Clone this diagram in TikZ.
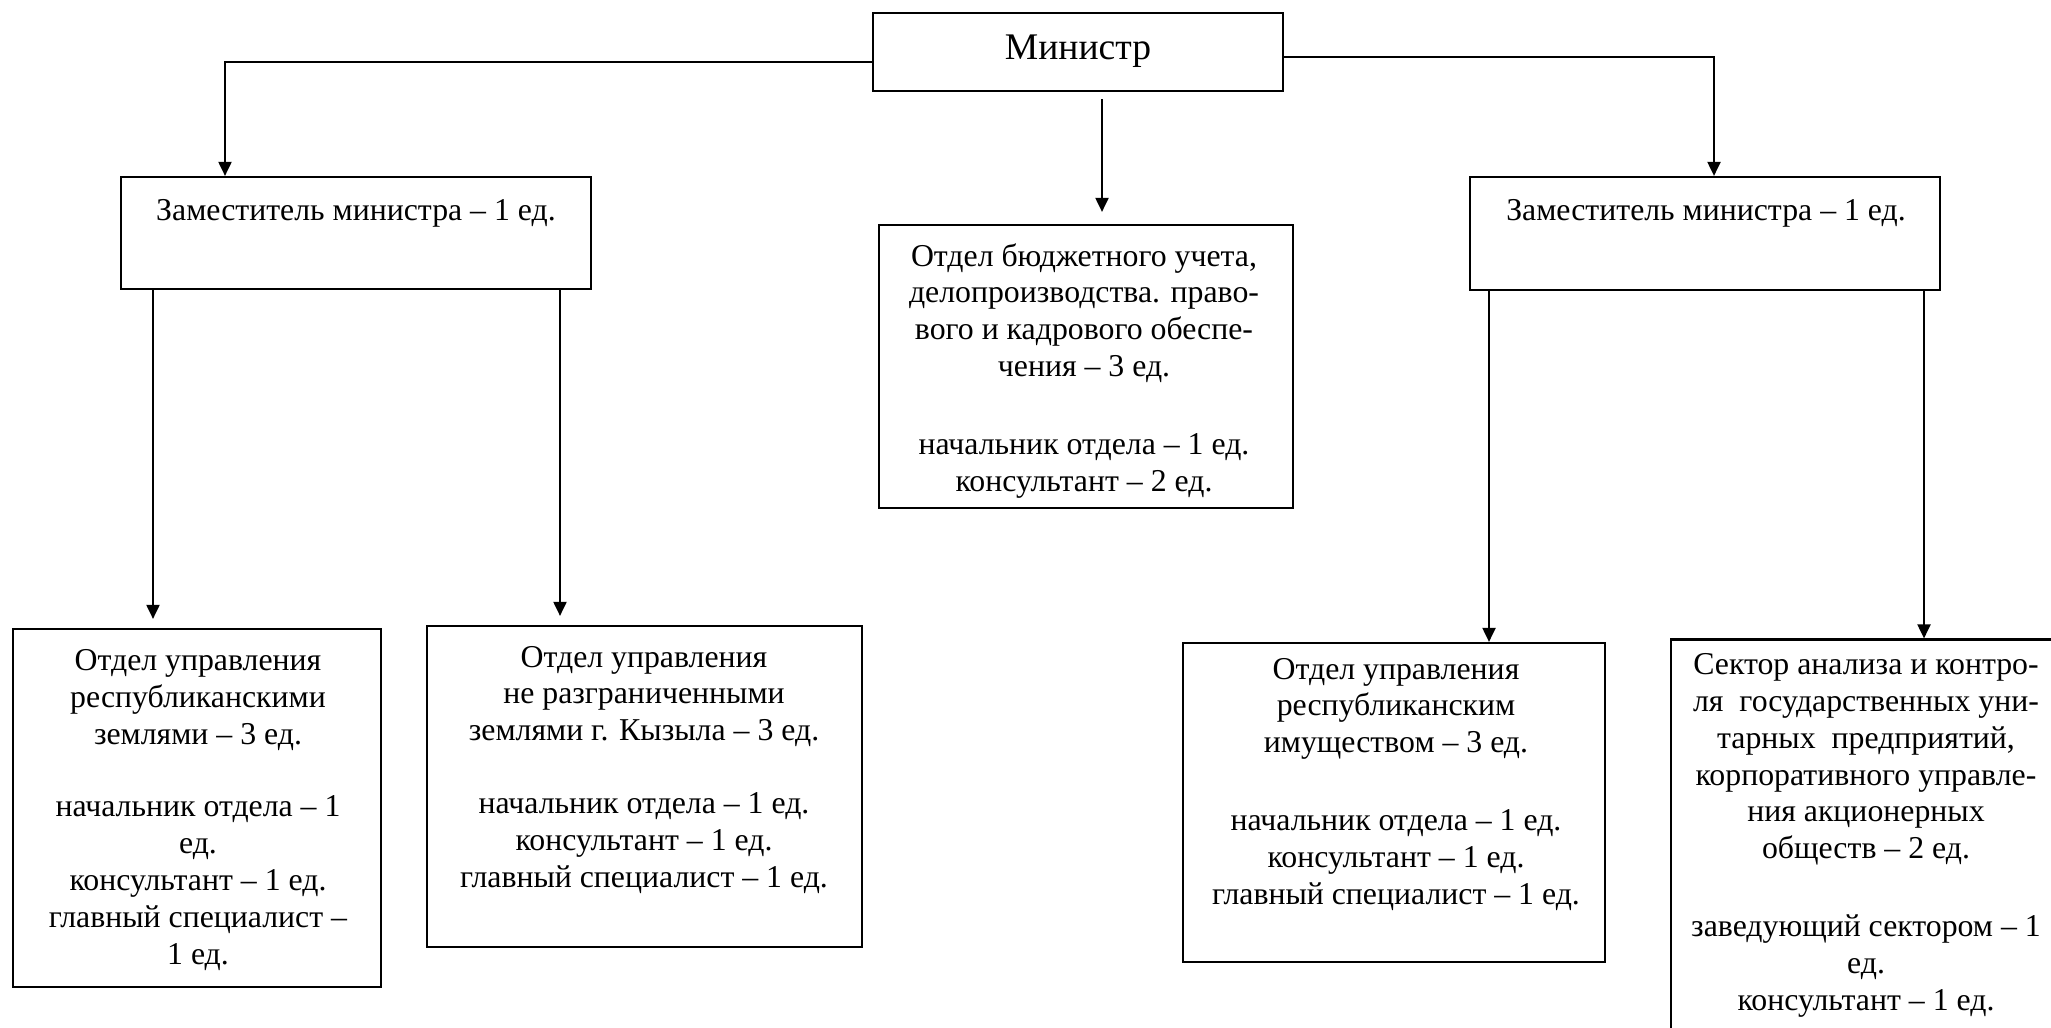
\documentclass[tikz,border=0pt]{standalone}
\usepackage{fontspec}
\setmainfont{Liberation Serif}
\usetikzlibrary{arrows.meta}
\begin{document}
\begin{tikzpicture}[x=0.5pt,y=-0.5pt,
  box/.style={draw, line width=1.1pt, rectangle, inner sep=0pt},
  txt/.style={align=center, inner sep=0pt, anchor=base, font=\fontsize{15.9}{18.4}\selectfont},
  bigtxt/.style={align=center, inner sep=0pt, anchor=base, font=\fontsize{18.8}{22}\selectfont},
  arr/.style={line width=1pt, -{Triangle[length=7pt,width=6.5pt]}}]
\useasboundingbox (0,0) rectangle (2051,1028);
\clip (0,0) rectangle (2051,1028);
% boxes
\node[box, minimum width=205pt, minimum height=39pt] (M) at (1078,52) {};
\node[box, minimum width=235pt, minimum height=56pt] (Z1) at (356,233) {};
\node[box, minimum width=235pt, minimum height=56.5pt] (Z2) at (1705,233.5) {};
\node[box, minimum width=207pt, minimum height=141.5pt] (D) at (1086,366.5) {};
\node[box, minimum width=184pt, minimum height=179pt] (B1) at (197,808) {};
\node[box, minimum width=217.5pt, minimum height=160.5pt] (B2) at (644.5,786.5) {};
\node[box, minimum width=211pt, minimum height=159.5pt] (B3) at (1394,802.5) {};
\node[box, minimum width=193pt, minimum height=201.5pt] (B4) at (1864,841) {};
% texts (anchor base = baseline of last line)
\node[bigtxt] (tM) at (1078,59) {Министр};
\node[txt] (tZ1) at (356,220) {Заместитель министра – 1 ед.};
\node[txt] (tZ2) at (1706,220) {Заместитель министра – 1 ед.};
\node[txt] (tD) at (1084,491) {Отдел бюджетного учета,\\делопроизводства. право-\\вого и кадрового обеспе-\\чения – 3 ед.\\[20.5pt]начальник отдела – 1 ед.\\консультант – 2 ед.};
\node[txt] (tB1) at (198,964) {Отдел управления\\республиканскими\\землями – 3 ед.\\[18pt]начальник отдела – 1\\ед.\\консультант – 1 ед.\\главный специалист –\\1 ед.};
\node[txt] (tB2) at (644,887) {Отдел управления\\не разграниченными\\землями г. Кызыла – 3 ед.\\[18pt]начальник отдела – 1 ед.\\консультант – 1 ед.\\главный специалист – 1 ед.};
\node[txt] (tB3) at (1396,904) {Отдел управления\\республиканским\\имуществом – 3 ед.\\[20.5pt]начальник отдела – 1 ед.\\консультант – 1 ед.\\главный специалист – 1 ед.};
\node[txt] (tB4) at (1866,1010) {Сектор анализа и контро-\\ля \ государственных уни-\\тарных \ предприятий,\\корпоративного управле-\\ния акционерных\\обществ – 2 ед.\\[20.5pt]заведующий сектором – 1\\ед.\\консультант – 1 ед.};
% connectors
\draw[arr] ([yshift=-5pt]M.west) -| ([xshift=-65.5pt]Z1.north);
\draw[arr] ([yshift=-2.5pt]M.east) -| ([xshift=4.5pt]Z2.north);
\draw[arr] ([xshift=12pt,yshift=-3.5pt]M.south) -- ([xshift=8pt,yshift=6pt]D.north);
\coordinate (s1) at ([xshift=-101.5pt]Z1.south);
\coordinate (t1) at ([yshift=4.5pt]B1.north);
\draw[arr] (s1) -- (s1 |- t1);
\coordinate (s2) at ([xshift=102pt]Z1.south);
\coordinate (t2) at ([yshift=4.5pt]B2.north);
\draw[arr] (s2) -- (s2 |- t2);
\coordinate (s3) at ([xshift=-108pt]Z2.south);
\draw[arr] (s3) -- (s3 |- B3.north);
\coordinate (s4) at ([xshift=109.5pt]Z2.south);
\draw[arr] (s4) -- (s4 |- B4.north);
\end{tikzpicture}
\end{document}
